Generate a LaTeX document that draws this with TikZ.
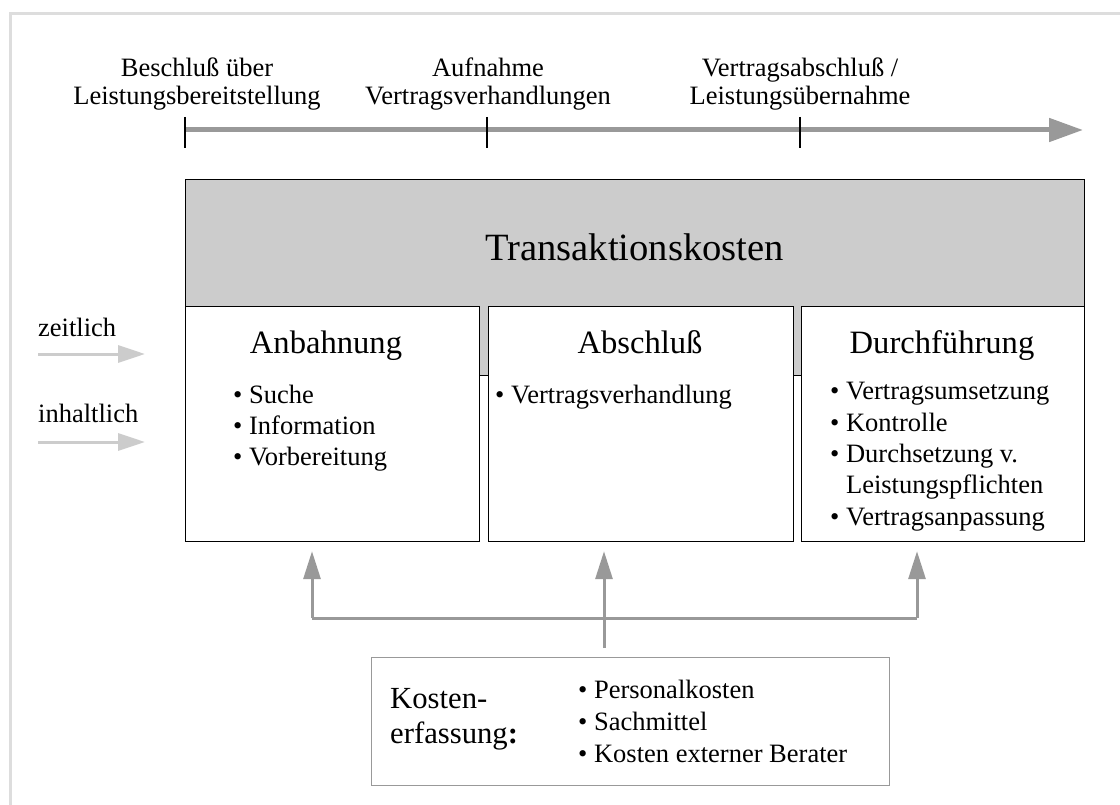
\documentclass[tikz,border=0pt]{standalone}
\usepackage{fontspec}
\setmainfont{Liberation Serif}
\usetikzlibrary{positioning,arrows.meta}
\definecolor{linegray}{HTML}{999999}
\definecolor{boxgray}{HTML}{CCCCCC}
\definecolor{framegray}{HTML}{DDDDDD}
\newcommand{\bul}{\textbullet\ }

\begin{document}
\begin{tikzpicture}[x=1pt,y=-1pt,
    every node/.style={inner sep=0pt},
    body/.style={font=\fontsize{26.5}{31}\selectfont},
    toplabel/.style={font=\fontsize{26.5}{28}\selectfont, align=center, anchor=base},
    heading/.style={font=\fontsize{32.6}{34}\selectfont, anchor=base},
    itemlist/.style={body, align=left, anchor=base west},
    phasebox/.style={draw=black, fill=white, line width=1.2pt, anchor=north west, minimum height=235pt},
    timeline/.style={draw=linegray, line width=5pt, -{Triangle[length=34pt,width=23pt]}},
    tick/.style={draw=black, line width=1.2pt},
    conn/.style={draw=linegray, line width=3pt},
    connarrow/.style={conn, -{Triangle[length=28pt,width=17pt]}},
    sidearrow/.style={draw=boxgray, line width=3pt, -{Triangle[length=27pt,width=17pt]}}]
    \useasboundingbox (0,0) rectangle (1120,805);
    \draw[framegray, line width=3pt] (10,805) -- (10,14) -- (1120,14);

    % Zeitachse (mehrzeilige Knoten: base = letzte Zeile)
    \coordinate (tstart) at (185,130);
    \coordinate (tend) at (1083,130);
    \draw[timeline] (tstart) -- (tend);
    \foreach \x in {185,487,800}
        \draw[tick] (\x,117) -- (\x,148);
    \node[toplabel] (beschluss) at (197,105) {Beschluß über\\Leistungsbereitstellung};
    \node[toplabel] (aufnahme) at (488,105) {Aufnahme\\Vertragsverhandlungen};
    \node[toplabel] (vertrag) at (800,105) {Vertragsabschluß /\\Leistungsübernahme};

    % Transaktionskosten
    \node[draw=black, fill=boxgray, line width=1.2pt, anchor=north west,
          minimum width=899pt, minimum height=196pt] (tk) at (185,179) {};
    \node[font=\fontsize{38.6}{40}\selectfont, anchor=base] (tktitle) at (634.5,261) {Transaktionskosten};

    \node[phasebox, minimum width=294pt] (anb) at (185,306) {};
    \node[phasebox, minimum width=305pt] (abs) at (488,306) {};
    \node[phasebox, minimum width=283pt] (dur) at (801,306) {};

    \node[heading] (anbhead) at (326,353) {Anbahnung};
    \node[heading] (abshead) at (640,353) {Abschluß};
    \node[heading] (durhead) at (942,353) {Durchführung};

    \node[itemlist] (anblist) at (233,465) {\bul Suche\\\bul Information\\\bul Vorbereitung};
    \node[itemlist] (abslist) at (495,403) {\bul Vertragsverhandlung};
    \node[itemlist, font=\fontsize{26.5}{31.3}\selectfont] (durlist) at (830,525)
        {\bul Vertragsumsetzung\\\bul Kontrolle\\\bul Durchsetzung v.\\\phantom{\bul}Leistungspflichten\\\bul Vertragsanpassung};

    % zeitlich / inhaltlich
    \node[body, anchor=base west] (zeit) at (38,337) {zeitlich};
    \node[body, anchor=base west] (inhalt) at (38,422) {inhaltlich};
    \coordinate (zeitA) at (38,354);
    \coordinate (zeitB) at (145,354);
    \coordinate (inhaltA) at (38,442);
    \coordinate (inhaltB) at (145,442);
    \draw[sidearrow] (zeitA) -- (zeitB);
    \draw[sidearrow] (inhaltA) -- (inhaltB);

    % Kostenerfassung
    \node[draw=linegray, line width=1.2pt, anchor=north west,
          minimum width=518pt, minimum height=128pt] (kosten) at (371,657) {};
    \node[font=\fontsize{30.7}{35}\selectfont, align=left, anchor=base west] (kostenlabel) at (390,743)
        {Kosten-\\erfassung\textbf{:}};
    \node[itemlist, font=\fontsize{26.5}{32}\selectfont] (kostenlist) at (578,762)
        {\bul Personalkosten\\\bul Sachmittel\\\bul Kosten externer Berater};

    \coordinate (hubL) at (312,618);
    \coordinate (hubM) at (604,618);
    \coordinate (hubR) at (917,618);
    \draw[conn] (hubL) -- (hubR);
    \draw[connarrow, shorten >=9pt] (hubL) -- (hubL |- anb.south);
    \draw[connarrow, shorten >=9pt] (hubR) -- (hubR |- dur.south);
    \draw[connarrow, shorten <=9pt, shorten >=9pt] (hubM |- kosten.north) -- (hubM |- abs.south);
\end{tikzpicture}
\end{document}
